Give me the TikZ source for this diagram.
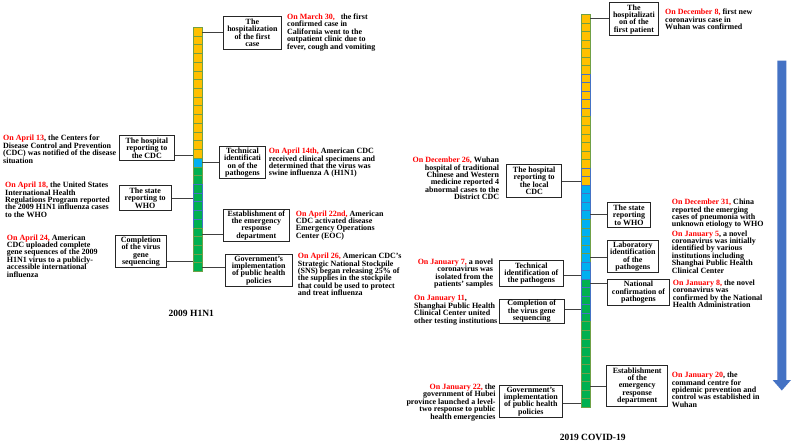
\documentclass[tikz,border=0pt]{standalone}
\usepackage{fontspec}
\setmainfont{Liberation Serif}

\definecolor{evred}{RGB}{255,0,0}
\definecolor{cellyel}{RGB}{255,192,0}
\definecolor{cellblu}{RGB}{0,176,240}
\definecolor{cellgrn}{RGB}{0,176,80}
\definecolor{edgeol}{RGB}{112,160,70}
\definecolor{edgebl}{RGB}{68,114,196}
\definecolor{flowbl}{RGB}{68,114,196}

\newcommand{\evdate}[1]{\textcolor{evred}{#1}}
\lineskiplimit=-5pt

\tikzset{
  cellbox/.style={line width=0.6pt},
  stagebox/.style={draw=black!85, line width=0.9pt, fill=white, align=center, inner sep=1pt,
    font=\fontsize{8}{7.4}\selectfont\bfseries},
  event/.style={inner sep=0pt, font=\fontsize{8}{7.4}\selectfont\bfseries},
  link/.style={draw=black!75, line width=0.9pt},
  title/.style={inner sep=0pt, font=\fontsize{9.5}{11}\selectfont\bfseries},
}

\begin{document}
\begin{tikzpicture}[x=1pt, y=-1pt]
    \useasboundingbox (0,0) rectangle (794,444);

    % 2009 H1N1 bar
    \foreach \i in {0,...,27} {
      \ifnum\i<15 \def\cf{cellyel}\else\ifnum\i<16 \def\cf{cellblu}\else\def\cf{cellgrn}\fi\fi
      \def\ce{edgeol}
      \ifnum\i>17 \ifnum\i<23 \def\ce{edgebl}\fi\fi
      \draw[cellbox, fill=\cf, draw=\ce] (193,{27.3+8.72*\i}) rectangle ++(9,8.72);
    }

    % 2019 COVID-19 bar
    \foreach \i in {0,...,45} {
      \ifnum\i<20 \def\cf{cellyel}\else\ifnum\i<31 \def\cf{cellblu}\else\def\cf{cellgrn}\fi\fi
      \def\ce{edgeol}
      \ifnum\i>6 \ifnum\i<12 \def\ce{edgebl}\fi\fi
      \ifnum\i>17 \ifnum\i<24 \def\ce{edgebl}\fi\fi
      \ifnum\i>28 \ifnum\i<36 \def\ce{edgebl}\fi\fi
      \draw[cellbox, fill=\cf, draw=\ce] (581,{14.3+8.54*\i}) rectangle ++(9,8.54);
    }

    % attachment points on the bars
    \coordinate (hA) at (202,32.3);
    \coordinate (hB) at (193,155);
    \coordinate (hC) at (202,162.7);
    \coordinate (hD) at (193,198.3);
    \coordinate (hE) at (202,234.3);
    \coordinate (hF) at (193,261.7);
    \coordinate (hG) at (202,267.7);
    \coordinate (cA) at (590,18.3);
    \coordinate (cB) at (581,181);
    \coordinate (cC) at (590,214);
    \coordinate (cD) at (590,257.7);
    \coordinate (cE) at (581,275);
    \coordinate (cF) at (590,283);
    \coordinate (cG) at (581,309.3);
    \coordinate (cH) at (590,386);
    \coordinate (cI) at (581,403.3);

    % 2009 H1N1 stages
    \node[stagebox, minimum width=58.7pt, minimum height=33.3pt] (hosp1) at (252.4,32.7) {The\\hospitalization\\of the first\\case};
    \node[stagebox, minimum width=55pt, minimum height=25.7pt] (rep1) at (146.8,147.9) {The hospital\\reporting to\\the CDC};
    \node[stagebox, minimum width=46.4pt, minimum height=31.6pt] (tech1) at (242.5,162.5) {Technical\\identificati\\on of the\\pathogens};
    \node[stagebox, minimum width=51.7pt, minimum height=25.7pt] (who1) at (145.2,197.9) {The state\\reporting to\\WHO};
    \node[stagebox, minimum width=66pt, minimum height=31.7pt] (eoc1) at (256.3,225.2) {Establishment of\\the emergency\\response\\department};
    \node[stagebox, minimum width=50.3pt, minimum height=31.6pt] (gene1) at (140.9,251.5) {Completion\\of the virus\\gene\\sequencing};
    \node[stagebox, minimum width=67.3pt, minimum height=32.7pt] (gov1) at (258.7,270.4) {Government's\\implementation\\of public health\\policies};

    \draw[link] (hA) -- (hA -| hosp1.west);
    \draw[link] (hB) -- (hB -| rep1.east);
    \draw[link] (hC) -- (hC -| tech1.west);
    \draw[link] (hD) -- (hD -| who1.east);
    \draw[link] (hE) -- (hE -| eoc1.west);
    \draw[link] (hF) -- (hF -| gene1.east);
    \draw[link] (hG) -- (hG -| gov1.west);

    % 2009 H1N1 events
    \node[event, anchor=north west, align=left] (ev1) at (287,13.7) {\evdate{On March 30,}\ \ \ the first\\confirmed case in\\California went to the\\outpatient clinic due to\\fever, cough and vomiting};
    \node[event, anchor=north west, align=left] (ev2) at (3,135) {\evdate{On April 13}, the Centers for\\Disease Control and Prevention\\(CDC) was notified of the disease\\situation};
    \node[event, anchor=north west, align=left] (ev3) at (268.7,148) {\evdate{On April 14th,} American CDC\\received clinical specimens and\\determined that the virus was\\swine influenza A (H1N1)};
    \node[event, anchor=north west, align=left] (ev4) at (5,182) {\evdate{On April 18,} the United States\\International Health\\Regulations Program reported\\the 2009 H1N1 influenza cases\\to the WHO};
    \node[event, anchor=north west, align=left] (ev5) at (295.7,210.3) {\evdate{On April 22nd,} American\\CDC activated disease\\Emergency Operations\\Center (EOC)};
    \node[event, anchor=north west, align=left] (ev6) at (6.7,234.3) {\evdate{On April 24,} American\\CDC uploaded complete\\gene sequences of the 2009\\H1N1 virus to a publicly-\\accessible international\\influenza};
    \node[event, anchor=north west, align=left] (ev7) at (297.7,253) {\evdate{On April 26,} American CDC's\\Strategic National Stockpile\\(SNS) began releasing 25\% of\\the supplies in the stockpile\\that could be used to protect\\and treat influenza};

    \node[title] (h1n1) at (191.3,313.3) {2009 H1N1};

    % 2019 COVID-19 stages
    \node[stagebox, minimum width=49.7pt, minimum height=33pt] (hosp2) at (633.9,19.2) {The\\hospitalizati\\on of the\\first patient};
    \node[stagebox, minimum width=55pt, minimum height=33.3pt] (rep2) at (534.2,180.7) {The hospital\\reporting to\\the local\\CDC};
    \node[stagebox, minimum width=43.4pt, minimum height=25.7pt] (who2) at (629,214.9) {The state\\reporting\\to WHO};
    \node[stagebox, minimum width=51pt, minimum height=32pt] (lab2) at (632.8,256.7) {Laboratory\\identification\\of the\\pathogens};
    \node[stagebox, minimum width=64pt, minimum height=26pt] (tech2) at (531.3,273.7) {Technical\\identification of\\the pathogens};
    \node[stagebox, minimum width=61.6pt, minimum height=25.7pt] (nat2) at (638.5,292.2) {National\\confirmation of\\pathogens};
    \node[stagebox, minimum width=65.3pt, minimum height=24pt] (gene2) at (531.7,311.3) {Completion of\\the virus gene\\sequencing};
    \node[stagebox, minimum width=61pt, minimum height=40.3pt] (eoc2) at (637.2,385.9) {Establishment\\of the\\emergency\\response\\department};
    \node[stagebox, minimum width=63pt, minimum height=32.7pt] (gov2) at (530.8,401.4) {Government's\\implementation\\of public health\\policies};

    \draw[link] (cA) -- (cA -| hosp2.west);
    \draw[link] (cB) -- (cB -| rep2.east);
    \draw[link] (cC) -- (cC -| who2.west);
    \draw[link] (cD) -- (cD -| lab2.west);
    \draw[link] (cE) -- (cE -| tech2.east);
    \draw[link] (cF) -- (cF -| nat2.west);
    \draw[link] (cG) -- (cG -| gene2.east);
    \draw[link] (cH) -- (cH -| eoc2.west);
    \draw[link] (cI) -- (cI -| gov2.east);

    % 2019 COVID-19 events
    \node[event, anchor=north west, align=left] (ev8) at (665,9) {\evdate{On December 8,} first new\\coronavirus case in\\Wuhan was confirmed};
    \node[event, anchor=north east, align=right] (ev9) at (499.3,157) {\evdate{On December 26,} Wuhan\\hospital of traditional\\Chinese and Western\\medicine reported 4\\abnormal cases to the\\District CDC};
    \node[event, anchor=north west, align=left] (ev10) at (671.7,199) {\evdate{On December 31,} China\\reported the emerging\\cases of pneumonia with\\unknown etiology to WHO};
    \node[event, anchor=north west, align=left] (ev11) at (671.7,230.3) {\evdate{On January 5}, a novel\\coronavirus was initially\\identified by various\\institutions including\\Shanghai Public Health\\Clinical Center};
    \node[event, anchor=north east, align=right] (ev12) at (493.3,258.7) {\evdate{On January 7,} a novel\\coronavirus was\\isolated from the\\patients' samples};
    \node[event, anchor=north west, align=left] (ev13) at (672.7,279.7) {\evdate{On January 8,} the novel\\coronavirus was\\confirmed by the National\\Health Administration};
    \node[event, anchor=north west, align=left] (ev14) at (414,295.3) {\evdate{On January 11},\\Shanghai Public Health\\Clinical Center united\\other testing institutions};
    \node[event, anchor=north west, align=left] (ev15) at (671.7,372) {\evdate{On January 20}, the\\command centre for\\epidemic prevention and\\control was established in\\Wuhan};
    \node[event, anchor=north east, align=right] (ev16) at (495.7,383.7) {\evdate{On January 22,} the\\government of Hubei\\province launched a level-\\two response to public\\health emergencies};

    \node[title] (covid) at (592.7,437.3) {2019 COVID-19};

    % time flow arrow
    \fill[flowbl] (777.3,60.7) -- (786.3,60.7) -- (786.3,380) -- (791,380) -- (781.8,390.5)
      -- (772.6,380) -- (777.3,380) -- cycle;
\end{tikzpicture}
\end{document}
